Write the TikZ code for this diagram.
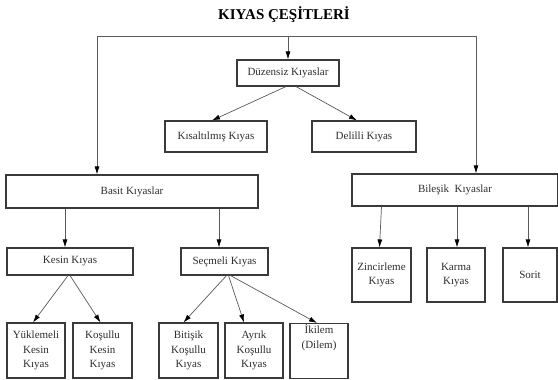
\documentclass[tikz,border=0pt]{standalone}
\usepackage{fontspec}
\setmainfont{Liberation Serif}
\usetikzlibrary{arrows.meta}
\definecolor{boxline}{HTML}{3A3A3A}
\definecolor{arrline}{HTML}{5A5A5A}
\definecolor{txt}{HTML}{2E2E2E}
\tikzset{
  kutu/.style={draw=boxline, line width=1.1pt, inner sep=0pt, align=center,
    text=txt, font=\fontsize{11}{14.5}\selectfont},
  ok/.style={draw=arrline, line width=0.7pt, -{Latex[length=8pt,width=5pt,black]}}
}
\begin{document}
\begin{tikzpicture}[x=1pt, y=-1pt]
  \useasboundingbox[fill=white] (0,0) rectangle (558,380);
  \node (baslik) at (284,15) {\fontsize{15}{18}\selectfont\bfseries KIYAS ÇEŞİTLERİ};
  % ust seviye
  \node[kutu, minimum width=102pt, minimum height=26pt] (duz) at (288,73) {Düzensiz Kıyaslar};
  \node[kutu, minimum width=102pt, minimum height=31pt] (kis) at (216,136.5) {Kısaltılmış Kıyas};
  \node[kutu, minimum width=104pt, minimum height=31pt] (del) at (364,136.5) {Delilli Kıyas};
  \node[kutu, minimum width=252pt, minimum height=33pt] (basit) at (132,191.5) {Basit Kıyaslar};
  \node[kutu, minimum width=206pt, minimum height=32pt] (bil) at (455,190) {Bileşik~ Kıyaslar};
  % basit kiyaslar
  \node[kutu, minimum width=126pt, minimum height=27pt] (kesin) at (70,261.5) {Kesin Kıyas};
  \node[kutu, minimum width=87pt, minimum height=27pt] (sec) at (224.5,261.5) {Seçmeli Kıyas};
  \node[kutu, minimum width=58pt, minimum height=55pt] (yuk) at (36,350.5) {Yüklemeli\\Kesin\\Kıyas};
  \node[kutu, minimum width=59pt, minimum height=55pt] (kos) at (102.5,350.5) {Koşullu\\Kesin\\Kıyas};
  \node[kutu, minimum width=59pt, minimum height=55pt] (bit) at (188.5,350.5) {Bitişik\\Koşullu\\Kıyas};
  \node[kutu, minimum width=58pt, minimum height=55pt] (ayr) at (254,350.5) {Ayrık\\Koşullu\\Kıyas};
  \node[kutu, minimum width=58pt, minimum height=55pt, anchor=north] (iki) at (319,323) {İkilem\\(Dilem)\\[14.5pt]};
  % bilesik kiyaslar
  \node[kutu, minimum width=59pt, minimum height=54pt] (zin) at (381.5,275) {Zincirleme\\Kıyas};
  \node[kutu, minimum width=58pt, minimum height=54pt] (kar) at (456,275) {Karma\\Kıyas};
  \node[kutu, minimum width=54pt, minimum height=54pt] (sor) at (530,275) {Sorit};
  % cerceve cizgisi
  \coordinate (sol) at (97,36);
  \coordinate (sag) at (476,36);
  \draw[draw=arrline, line width=0.7pt] (sol) -- (sag);
  \draw[ok] (sol) -- (sol |- basit.north);
  \draw[ok] (sag) -- (sag |- bil.north);
  \draw[ok] (duz.north |- sol) -- (duz.north);
  \draw[ok] ([xshift=-2pt]duz.south) -- ([xshift=-4pt]kis.north);
  \draw[ok] ([xshift=8pt]duz.south) -- ([xshift=-7pt]del.north);
  \draw[ok] (basit.south -| 65,0) -- (kesin.north -| 65,0);
  \draw[ok] (basit.south -| 219,0) -- (sec.north -| 219,0);
  \draw[ok] ([xshift=-2pt]kesin.south) -- ([xshift=-3pt]yuk.north);
  \draw[ok] (kesin.south) -- ([xshift=-2pt]kos.north);
  \draw[ok] ([xshift=2pt]sec.south) -- ([xshift=-5pt]bit.north);
  \draw[ok] ([xshift=4pt]sec.south) -- ([xshift=-10pt]ayr.north);
  \draw[ok] ([xshift=6pt]sec.south) -- ([xshift=-2pt]iki.north);
  \draw[ok] (bil.south -| zin) -- ([xshift=-2pt]zin.north);
  \draw[ok] (bil.south -| 457,0) -- (kar.north -| 457,0);
  \draw[ok] (bil.south -| 528,0) -- (sor.north -| 528,0);
\end{tikzpicture}
\end{document}
